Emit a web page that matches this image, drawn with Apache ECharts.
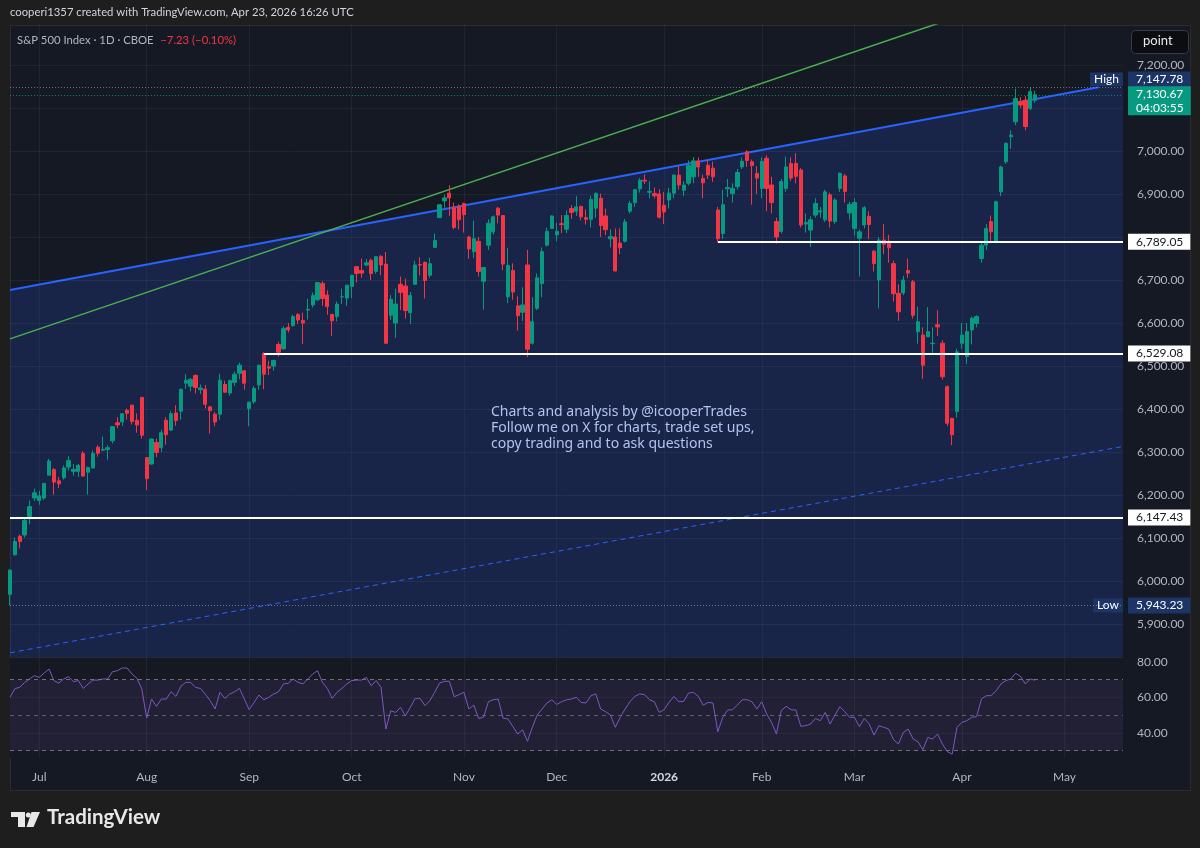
<!DOCTYPE html>
<html lang="en">
<head>
<meta charset="UTF-8">
<title>S&P 500 Index 1D</title>
<script src="https://cdn.jsdelivr.net/npm/echarts@6.0.0/dist/echarts.min.js"></script>
<style>
  html, body { margin: 0; padding: 0; background: #1e1e1e; }
  #frame { position: absolute; left: 10px; top: 25px; width: 1179px; height: 764px; background: #151924; border: 1px solid #2a2c31; }
  #main { position: absolute; left: 0; top: 0; width: 1200px; height: 848px; }
</style>
</head>
<body>
<div id="frame"></div>
<div id="main"></div>
<script type="text/javascript">
// trading days shown on the time axis (the tail after Apr 23 is empty space)
var daysJun25 = [23, 24, 25, 26, 27, 30];
var daysJul25 = [1, 2, 3, 7, 8, 9, 10, 11, 14, 15, 16, 17, 18, 21, 22, 23, 24, 25, 28, 29, 30, 31];
var daysAug25 = [1, 4, 5, 6, 7, 8, 11, 12, 13, 14, 15, 18, 19, 20, 21, 22, 25, 26, 27, 28, 29];
var daysSep25 = [2, 3, 4, 5, 8, 9, 10, 11, 12, 15, 16, 17, 18, 19, 22, 23, 24, 25, 26, 29, 30];
var daysOct25 = [1, 2, 3, 6, 7, 8, 9, 10, 13, 14, 15, 16, 17, 20, 21, 22, 23, 24, 27, 28, 29, 30, 31];
var daysNov25 = [3, 4, 5, 6, 7, 10, 11, 12, 13, 14, 17, 18, 19, 20, 21, 24, 25, 26, 28];
var daysDec25 = [1, 2, 3, 4, 5, 8, 9, 10, 11, 12, 15, 16, 17, 18, 19, 22, 23, 24, 26, 29, 30, 31];
var daysJan26 = [2, 5, 6, 7, 8, 9, 12, 13, 14, 15, 16, 20, 21, 22, 23, 26, 27, 28, 29, 30];
var daysFeb26 = [2, 3, 4, 5, 6, 9, 10, 11, 12, 13, 17, 18, 19, 20, 23, 24, 25, 26, 27];
var daysMar26 = [2, 3, 4, 5, 6, 9, 10, 11, 12, 13, 16, 17, 18, 19, 20, 23, 24, 25, 26, 27, 30, 31];
var daysApr26 = [1, 2, 6, 7, 8, 9, 10, 13, 14, 15, 16, 17, 20, 21, 22, 23, 24, 27, 28, 29, 30];
var daysMay26 = [1, 4, 5, 6, 7, 8, 11, 12, 13, 14, 15, 18, 19];
var monthNames = ['', 'Jul', 'Aug', 'Sep', 'Oct', 'Nov', 'Dec', '2026', 'Feb', 'Mar', 'Apr', 'May'];

// candles: [open, close, low, high]
var candlesJun25 = [
  [5969, 6025, 5943.23, 6028], [6061, 6092, 6059, 6101], [6104, 6092, 6076, 6108],
  [6107, 6141, 6101, 6146], [6150, 6173, 6132, 6187], [6193, 6205, 6186, 6215]
];
var candlesJul25 = [
  [6187, 6198, 6177, 6210], [6193, 6227, 6188, 6228], [6246, 6279, 6246, 6284], [6259, 6230, 6201, 6263],
  [6233, 6226, 6216, 6242], [6240, 6263, 6236, 6269], [6265, 6280, 6257, 6290], [6255, 6260, 6245, 6272],
  [6255, 6269, 6242, 6272], [6297, 6244, 6243, 6302], [6253, 6264, 6201, 6266], [6263, 6297, 6262, 6304],
  [6311, 6297, 6289, 6316], [6304, 6306, 6303, 6336], [6306, 6310, 6282, 6316], [6326, 6359, 6320, 6360],
  [6368, 6363, 6355, 6381], [6370, 6389, 6361, 6390], [6397, 6390, 6375, 6401], [6409, 6371, 6364, 6410],
  [6374, 6363, 6345, 6390], [6427, 6339, 6331, 6428]
];
var candlesAug25 = [
  [6287, 6238, 6212, 6288], [6272, 6330, 6271, 6331], [6322, 6299, 6288, 6331], [6310, 6345, 6300, 6352],
  [6374, 6340, 6317, 6381], [6351, 6389, 6349, 6395], [6391, 6373, 6361, 6409], [6395, 6446, 6375, 6447],
  [6460, 6467, 6447, 6481], [6453, 6469, 6441, 6472], [6478, 6450, 6436, 6481], [6445, 6449, 6435, 6457],
  [6446, 6411, 6401, 6456], [6405, 6396, 6343, 6407], [6388, 6370, 6360, 6393], [6388, 6467, 6375, 6482],
  [6457, 6439, 6438, 6466], [6437, 6466, 6431, 6468], [6462, 6481, 6454, 6487], [6483, 6502, 6469, 6508],
  [6489, 6460, 6445, 6490]
];
var candlesSep25 = [
  [6401, 6416, 6360, 6417], [6417, 6448, 6412, 6453], [6456, 6502, 6445, 6503], [6529, 6481, 6446, 6532],
  [6498, 6495, 6479, 6512], [6500, 6513, 6489, 6514], [6550, 6532, 6522, 6556], [6540, 6587, 6538, 6592],
  [6590, 6584, 6578, 6600], [6594, 6615, 6591, 6619], [6620, 6607, 6598, 6623], [6606, 6600, 6551, 6624],
  [6630, 6632, 6608, 6656], [6642, 6664, 6636, 6671], [6654, 6694, 6651, 6695], [6692, 6657, 6640, 6697],
  [6665, 6638, 6619, 6676], [6620, 6605, 6570, 6621], [6615, 6644, 6604, 6650], [6661, 6661, 6644, 6680],
  [6658, 6688, 6640, 6689]
];
var candlesOct25 = [
  [6685, 6711, 6658, 6712], [6731, 6715, 6694, 6731], [6722, 6716, 6705, 6750], [6735, 6740, 6732, 6749],
  [6746, 6715, 6700, 6750], [6720, 6754, 6715, 6755], [6755, 6735, 6711, 6758], [6737, 6553, 6551, 6765],
  [6618, 6655, 6607, 6665], [6600, 6644, 6565, 6680], [6690, 6671, 6630, 6708], [6686, 6629, 6610, 6703],
  [6624, 6664, 6598, 6672], [6690, 6735, 6690, 6745], [6736, 6735, 6711, 6753], [6741, 6699, 6657, 6743],
  [6711, 6738, 6705, 6752], [6776, 6792, 6774, 6808], [6845, 6875, 6845, 6876], [6884, 6891, 6868, 6899],
  [6902, 6891, 6849, 6920], [6869, 6822, 6818, 6880], [6871, 6840, 6818, 6876]
];
var candlesNov25 = [
  [6878, 6852, 6810, 6880], [6800, 6772, 6749, 6803], [6766, 6796, 6751, 6838], [6790, 6720, 6708, 6800],
  [6697, 6729, 6631, 6730], [6781, 6832, 6770, 6841], [6812, 6847, 6806, 6850], [6867, 6851, 6832, 6870],
  [6850, 6737, 6723, 6851], [6661, 6734, 6646, 6775], [6722, 6672, 6654, 6739], [6640, 6617, 6582, 6662],
  [6625, 6642, 6605, 6683], [6735, 6539, 6521, 6770], [6553, 6603, 6550, 6660], [6634, 6705, 6630, 6715],
  [6692, 6766, 6660, 6776], [6781, 6813, 6778, 6822], [6820, 6849, 6820, 6850]
];
var candlesDec25 = [
  [6805, 6813, 6790, 6833], [6831, 6829, 6809, 6851], [6818, 6850, 6809, 6862], [6866, 6857, 6842, 6874],
  [6860, 6870, 6849, 6895], [6871, 6847, 6839, 6873], [6845, 6841, 6829, 6864], [6841, 6887, 6822, 6896],
  [6867, 6901, 6845, 6904], [6890, 6827, 6800, 6901], [6849, 6817, 6804, 6866], [6796, 6801, 6776, 6818],
  [6800, 6721, 6720, 6820], [6786, 6775, 6760, 6820], [6790, 6835, 6787, 6842], [6860, 6878, 6855, 6884],
  [6880, 6910, 6870, 6912], [6912, 6932, 6903, 6937], [6932, 6930, 6923, 6946], [6904, 6906, 6890, 6930],
  [6901, 6896, 6890, 6915], [6900, 6846, 6843, 6911]
];
var candlesJan26 = [
  [6874, 6858, 6830, 6905], [6886, 6902, 6866, 6914], [6902, 6944, 6890, 6945], [6944, 6921, 6910, 6965],
  [6909, 6921, 6895, 6930], [6925, 6966, 6920, 6978], [6940, 6977, 6925, 6986], [6977, 6963, 6940, 6985],
  [6936, 6926, 6890, 6945], [6967, 6944, 6935, 6980], [6960, 6940, 6928, 6975], [6863, 6796, 6789.05, 6870],
  [6808, 6875, 6795, 6910], [6912, 6915, 6893, 6935], [6901, 6913, 6880, 6925], [6917, 6950, 6910, 6958],
  [6963, 6976, 6958, 6985], [6998, 6978, 6963, 7002], [6975, 6966, 6875, 6980], [6948, 6937, 6900, 6965]
];
var candlesFeb26 = [
  [6913, 6976, 6890, 6985], [6983, 6913, 6860, 6990], [6921, 6880, 6855, 6940], [6836, 6800, 6785, 6845],
  [6813, 6929, 6808, 6935], [6913, 6963, 6905, 6987], [6971, 6937, 6930, 6985], [6971, 6941, 6925, 6995],
  [6956, 6828, 6822, 6960], [6830, 6834, 6810, 6855], [6816, 6840, 6777, 6848], [6851, 6878, 6845, 6890],
  [6858, 6861, 6845, 6870], [6840, 6905, 6835, 6910], [6898, 6837, 6822, 6903], [6836, 6886, 6830, 6890],
  [6913, 6948, 6905, 6950], [6942, 6906, 6880, 6947], [6856, 6876, 6840, 6882]
];
var candlesMar26 = [
  [6820, 6880, 6803, 6890], [6797, 6812, 6708, 6818], [6828, 6868, 6820, 6872], [6848, 6829, 6795, 6860],
  [6767, 6738, 6720, 6770], [6700, 6793, 6634, 6800], [6793, 6783, 6760, 6830], [6790, 6775, 6740, 6805],
  [6738, 6668, 6650, 6745], [6669, 6626, 6605, 6690], [6670, 6700, 6665, 6710], [6722, 6716, 6705, 6750],
  [6696, 6618, 6610, 6700], [6580, 6603, 6552, 6638], [6572, 6502, 6470, 6590], [6568, 6580, 6568, 6637],
  [6552, 6553, 6530, 6590], [6596, 6591, 6570, 6630], [6553, 6475, 6468, 6560], [6452, 6367, 6360, 6455],
  [6378, 6340, 6316, 6380], [6394, 6533, 6380, 6540]
];
var candlesApr26 = [
  [6553, 6572, 6540, 6600], [6522, 6580, 6505, 6600], [6584, 6611, 6550, 6615], [6599, 6615, 6590, 6618],
  [6750, 6781, 6740, 6790], [6781, 6820, 6770, 6830], [6836, 6812, 6790, 6850], [6790, 6882, 6789, 6885],
  [6905, 6963, 6895, 6966], [6975, 7018, 6970, 7020], [7033, 7037, 7005, 7048], [7068, 7122, 7060, 7145],
  [7115, 7107, 7100, 7125], [7118, 7057, 7048, 7128], [7099, 7137.9, 7095, 7147.78], [7118, 7130.67, 7112, 7140]
];

// RSI(14)
var rsiJunOct = [
  60.1, 65, 65.7, 68.5, 70.4, 72.3, 71.3, 73.8, 76, 69.5,
  68.1, 70.4, 71.7, 68.9, 69.5, 65.1, 67.6, 69.8, 69.8, 70.4,
  70.4, 74.5, 75.1, 76.6, 76.6, 73.2, 70.8, 64.8, 48.4, 59.1,
  55, 59.1, 59.1, 63.3, 60.6, 66.3, 68.5, 68.5, 65.7, 65.1,
  61.9, 58.2, 53.5, 62.9, 59.5, 61.9, 63.2, 65.1, 59.1, 53.1,
  57.2, 61.4, 58.7, 60.1, 61.9, 63.2, 67.6, 68, 70.4, 68.5,
  67.6, 70.4, 73.2, 75.1, 68.5, 65.1, 59.5, 62.9, 65.1, 67.6,
  69.5, 69.8, 69.8, 71.3, 66.6, 69.5, 65.7, 42.2, 52.5, 51.6
];
var rsiOctMar = [
  54.4, 49.7, 54.4, 59.5, 59.5, 55.4, 58.2, 62.9, 68.1, 69.1,
  69.1, 60.4, 61.6, 62.9, 53.5, 55.7, 48.2, 48.8, 57.6, 58.7,
  59.1, 48.4, 47.9, 43.7, 39.4, 41.8, 35.3, 43.2, 50.1, 53.5,
  56.9, 58.7, 56.1, 57.6, 58.7, 59.1, 60.1, 57.2, 56.9, 61,
  62, 53.5, 52, 50.1, 43.2, 48.8, 53.5, 57.6, 60.6, 62,
  61.6, 58.7, 57.6, 51.6, 53.1, 57.2, 60.6, 57.6, 57.8, 62.5,
  62.9, 60.6, 55.7, 57.2, 56.9, 40.7, 48.8, 52.9, 53.1, 55.7,
  58.7, 58.7, 57.6, 53.5, 57.6, 50.7, 46, 39.4, 52.6, 55,
  53.1, 52.9, 43.7, 44.1, 45, 48.2, 46.9, 51.6, 45, 50.1,
  54.8, 52, 48.8, 48.8, 43.5, 48.2, 45, 38.8, 44.1, 43.2,
  42.2, 36.2, 33.8
];
var rsiMarApr = [
  40.3, 42.2, 36.6, 35.1, 30.6, 37.5, 36.6, 39.4, 33.8, 29.5,
  28.1, 43.2, 46, 46.9, 48.8, 49.2, 59.1, 61, 61, 63.8,
  67.6, 69.5, 70.4, 73.6, 71.9, 67.6, 70.4, 69.71
];

// drawn lines: [bar index, price]
var upperTrend = [[0, 6677], [223, 7148]];
var greenTrend = [[0, 6563], [228, 7443]];
var lowerTrend = [[0, 5833], [228, 6313]];
var channelFill = [[0, 6677], [223, 7148], [228, 7148]];

var priceLabels = [5900, 6000, 6100, 6200, 6300, 6400, 6500, 6600, 6700, 6900, 7000, 7200];
var priceGrid = [5900, 6000, 6100, 6200, 6300, 6400, 6500, 6600, 6700, 6800, 6900, 7000, 7100, 7200];
var rsiLabels = [40, 60, 80];

var FONT = 'Lato, "Noto Sans", sans-serif';
var NOTE_FONT = '"Noto Sans", "DejaVu Sans", sans-serif';
var FS = 11.5;
var upColor = '#089981';
var downColor = '#f23645';

function pad(n) { return n < 10 ? '0' + n : '' + n; }
var dates = [];
var monthLabelAt = {};
[[2025, 6, daysJun25], [2025, 7, daysJul25], [2025, 8, daysAug25], [2025, 9, daysSep25],
 [2025, 10, daysOct25], [2025, 11, daysNov25], [2025, 12, daysDec25], [2026, 1, daysJan26],
 [2026, 2, daysFeb26], [2026, 3, daysMar26], [2026, 4, daysApr26], [2026, 5, daysMay26]].forEach(function (m, k) {
  if (monthNames[k]) monthLabelAt[dates.length] = monthNames[k];
  m[2].forEach(function (d) { dates.push(m[0] + '-' + pad(m[1]) + '-' + pad(d)); });
});
var candles = [].concat(candlesJun25, candlesJul25, candlesAug25, candlesSep25, candlesOct25, candlesNov25,
  candlesDec25, candlesJan26, candlesFeb26, candlesMar26, candlesApr26);
var rsi = [].concat(rsiJunOct, rsiOctMar, rsiMarApr);
var lastIdx = dates.length - 1;
var lastDate = dates[lastIdx];

function isMonthStart(index) { return monthLabelAt[index] !== undefined; }
function fmt2(v) { return v.toLocaleString('en-US', { minimumFractionDigits: 2, maximumFractionDigits: 2 }); }

function axisBox(bg, fg) {
  return { show: true, position: 'end', distance: 5, backgroundColor: bg, color: fg, padding: [1, 7, 1, 8],
    fontSize: FS + 0.5, fontFamily: FONT, lineHeight: 14 };
}
function level(value, fromIdx, label, lineStyle, bg, fg, extra) {
  var lab = axisBox(bg, fg);
  lab.formatter = label;
  if (extra) for (var k in extra) lab[k] = extra[k];
  return [{ coord: [dates[fromIdx], value], lineStyle: lineStyle, label: lab }, { coord: [lastDate, value] }];
}
var whiteLine = { color: '#ffffff', width: 2, type: 'solid' };

var myChart = echarts.init(document.getElementById('main'));
var option = {
  backgroundColor: 'transparent',
  animation: false,
  grid: [
    { left: 10, top: 25, width: 1113, height: 632, outerBoundsMode: 'none' },
    { left: 10, top: 657, width: 1113, height: 101, outerBoundsMode: 'none', show: true,
      backgroundColor: '#161922', borderWidth: 0 }
  ],
  xAxis: [
    { gridIndex: 0, type: 'category', data: dates, boundaryGap: false,
      axisLine: { show: true, lineStyle: { color: '#262a33' } }, axisTick: { show: false }, axisLabel: { show: false },
      splitLine: { show: true, interval: isMonthStart, lineStyle: { color: 'rgba(255,255,255,0.05)' } } },
    { gridIndex: 1, type: 'category', data: dates, boundaryGap: false,
      axisLine: { show: false }, axisTick: { show: false },
      axisLabel: { show: true, interval: isMonthStart, margin: 13, color: '#b2b5be', fontSize: FS + 0.5, fontFamily: FONT,
        formatter: function (v, i) { var t = monthLabelAt[i] || ''; return t === '2026' ? '{y|2026}' : t; },
        rich: { y: { color: '#d6d8de', fontWeight: 'bold', fontSize: FS + 0.5, fontFamily: FONT } } },
      splitLine: { show: true, interval: isMonthStart, lineStyle: { color: 'rgba(255,255,255,0.05)' } } }
  ],
  yAxis: [
    { gridIndex: 0, type: 'value', position: 'right', min: 5823.3, max: 7293, scale: true,
      axisLine: { show: false }, axisTick: { show: false }, splitLine: { show: false },
      axisLabel: { customValues: priceLabels, margin: 14, color: '#b2b5be', fontSize: FS + 0.5, fontFamily: FONT, formatter: fmt2 } },
    { gridIndex: 1, type: 'value', position: 'right', min: 25.9, max: 82.8,
      axisLine: { show: false }, axisTick: { show: false }, splitLine: { show: false },
      axisLabel: { customValues: rsiLabels, margin: 14, color: '#b2b5be', fontSize: FS + 0.5, fontFamily: FONT,
        formatter: function (v) { return v.toFixed(2); } } }
  ],
  series: [
    { name: 'channel fill', type: 'line', xAxisIndex: 0, yAxisIndex: 0, data: channelFill, silent: true,
      showSymbol: false, lineStyle: { width: 0, opacity: 0 }, z: 1,
      areaStyle: { color: 'rgba(41,98,255,0.24)', origin: 'start' },
      markLine: { silent: true, symbol: ['none', 'none'], label: { show: false },
        lineStyle: { color: 'rgba(255,255,255,0.05)', width: 1, type: 'solid' },
        data: priceGrid.map(function (v) { return { yAxis: v }; }) } },
    { name: 'lower channel', type: 'line', xAxisIndex: 0, yAxisIndex: 0, data: lowerTrend, silent: true,
      showSymbol: false, z: 3, lineStyle: { color: '#2962ff', width: 1, type: [5, 4] } },
    { name: 'SPX', type: 'candlestick', xAxisIndex: 0, yAxisIndex: 0, data: candles, barWidth: '78%', z: 5,
      itemStyle: { color: upColor, color0: downColor, borderColor: upColor, borderColor0: downColor, borderWidth: 1 },
      markLine: { silent: true, symbol: ['none', 'none'], z: 6,
        data: [
          level(6789.05, 145, '6,789.05', whiteLine, '#ffffff', '#131722'),
          level(6529.08, 52, '6,529.08', whiteLine, '#ffffff', '#131722'),
          level(6147.43, 0, '6,147.43', whiteLine, '#ffffff', '#131722'),
          level(5943.23, 0, '5,943.23', { color: 'rgba(178,181,190,0.55)', width: 1, type: [1, 2] }, '#1d3466', '#ffffff'),
          level(7147.78, 0, '7,147.78', { color: 'rgba(178,181,190,0.55)', width: 1, type: [1, 2] }, '#1d3466', '#ffffff',
            { offset: [0, -8] }),
          level(7130.67, 0, '7,130.67\n04:03:55', { color: 'rgba(8,153,129,0.8)', width: 1, type: [1, 2] }, upColor, '#ffffff',
            { offset: [0, 6], padding: [1, 7, 0, 8] })
        ] },
      markPoint: { silent: true, symbol: 'rect', symbolSize: 0.1, itemStyle: { color: 'transparent' },
        data: [
          { coord: [lastDate, 7147.78], label: { show: true, position: 'left', distance: 0, formatter: 'High',
            backgroundColor: '#1d3466', color: '#ffffff', padding: [1, 4], fontSize: FS + 0.5, fontFamily: FONT, offset: [0, -8] } },
          { coord: [lastDate, 5943.23], label: { show: true, position: 'left', distance: 0, formatter: 'Low',
            backgroundColor: '#1d3466', color: '#ffffff', padding: [1, 4], fontSize: FS + 0.5, fontFamily: FONT } }
        ] } },
    { name: 'upper channel', type: 'line', xAxisIndex: 0, yAxisIndex: 0, data: upperTrend, silent: true,
      showSymbol: false, z: 4, lineStyle: { color: '#2962ff', width: 2 } },
    { name: 'green trend', type: 'line', xAxisIndex: 0, yAxisIndex: 0, data: greenTrend, silent: true,
      showSymbol: false, z: 4, lineStyle: { color: '#4caf50', width: 1.5 } },
    { name: 'RSI', type: 'line', xAxisIndex: 1, yAxisIndex: 1, data: rsi, silent: true, showSymbol: false, z: 4,
      lineStyle: { color: '#7e57c2', width: 1 },
      markArea: { silent: true, itemStyle: { color: 'rgba(126,87,194,0.12)' },
        data: [[{ yAxis: 30 }, { yAxis: 70 }]] },
      markLine: { silent: true, symbol: ['none', 'none'],
        data: [
          { yAxis: 70, lineStyle: { color: 'rgba(120,123,134,0.9)', width: 1, type: [4, 4] }, label: { show: false } },
          { yAxis: 50, lineStyle: { color: 'rgba(120,123,134,0.7)', width: 1, type: [4, 4] }, label: { show: false } },
          { yAxis: 30, lineStyle: { color: 'rgba(120,123,134,0.9)', width: 1, type: [4, 4] }, label: { show: false } },
          { yAxis: 60, lineStyle: { color: 'rgba(255,255,255,0.04)', width: 1, type: 'solid' }, label: { show: false } },
          { yAxis: 40, lineStyle: { color: 'rgba(255,255,255,0.04)', width: 1, type: 'solid' }, label: { show: false } },
          { yAxis: 69.71, lineStyle: { opacity: 0 },
            label: { show: true, position: 'end', distance: 7, formatter: '69.71', backgroundColor: '#7e57c2',
              color: '#ffffff', padding: [2, 5], fontSize: FS + 0.5, fontFamily: FONT } }
        ] } }
  ],
  graphic: [
    { type: 'text', left: 10, top: 7, silent: true,
      style: { text: 'cooperi1357 created with TradingView.com, Apr 23, 2026 16:26 UTC', fill: '#d1d4dc', font: '11.3px ' + FONT } },
    { type: 'text', left: 17, top: 34, silent: true,
      style: { text: '{a|S&P 500 Index \u00b7 1D \u00b7 CBOE}  {b|\u22127.23 (\u22120.10%)}',
        rich: { a: { fill: '#b2b5be', font: '11.3px ' + FONT }, b: { fill: '#f23645', font: '11.3px ' + FONT } } } },
    { type: 'rect', left: 1131, top: 30, silent: true, shape: { width: 57, height: 23, r: 4 },
      style: { fill: '#0c0d10', stroke: '#3a3b40', lineWidth: 1 } },
    { type: 'text', left: 1143, top: 34, silent: true, style: { text: 'point', fill: '#e6e8ee', font: '13px ' + FONT } },
    { type: 'text', left: 491, top: 404, silent: true,
      style: { text: 'Charts and analysis by @icooperTrades\nFollow me on X for charts, trade set ups,\ncopy trading and to ask questions',
        fill: '#cfd6ec', font: '14px ' + NOTE_FONT, lineHeight: 16 } },
    { type: 'group', left: 11, top: 812, silent: true, children: [
      { type: 'rect', shape: { x: 0, y: 0, width: 14, height: 5 }, style: { fill: '#e8e8e8' } },
      { type: 'rect', shape: { x: 7, y: 0, width: 7, height: 15 }, style: { fill: '#e8e8e8' } },
      { type: 'circle', shape: { cx: 17.3, cy: 3, r: 2.5 }, style: { fill: '#e8e8e8' } },
      { type: 'polygon', shape: { points: [[20.5, 0], [29, 0], [22.5, 15], [15.5, 15]] }, style: { fill: '#e8e8e8' } }
    ] },
    { type: 'text', left: 47, top: 807, silent: true, style: { text: 'TradingView', fill: '#e8e8e8', font: 'bold 20.5px ' + FONT } }
  ]
};
myChart.setOption(option);
</script>
</body>
</html>
